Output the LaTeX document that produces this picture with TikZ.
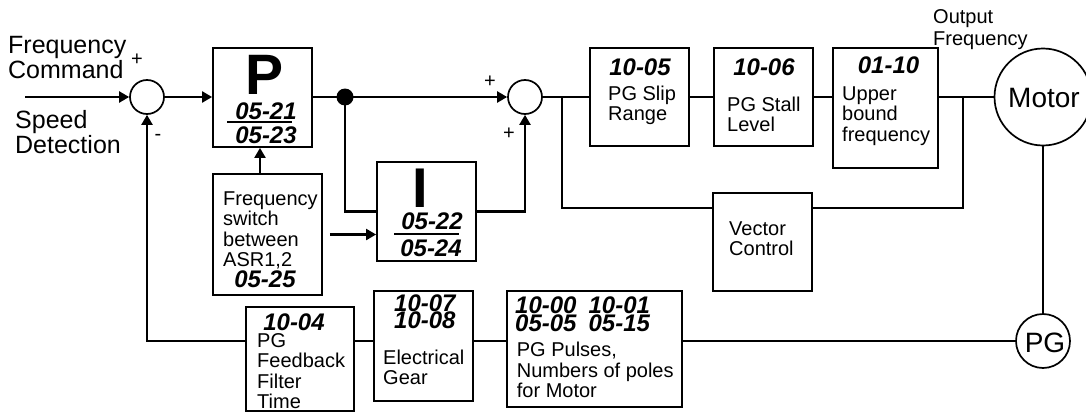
\documentclass[tikz,border=0pt]{standalone}
\usepackage{fontspec}
\setmainfont{Liberation Sans}
\usetikzlibrary{arrows.meta,calc}
\newcommand\mystack[1]{\begin{tabular}[t]{@{}l@{}}#1\end{tabular}}
\newcommand\numstack[3]{\vtop{\baselineskip=#1\lineskiplimit=-30pt\hbox{#2}\hbox{#3}}}
\begin{document}
\begin{tikzpicture}[x=1pt,y=-1pt,line join=miter,
  box/.style={draw,line width=1.8pt,inner sep=0pt},
  circ/.style={circle,draw,line width=1.7pt,inner sep=0pt},
  wire/.style={line width=2.2pt},
  arr/.style={wire,-{Triangle[length=10pt,width=11pt]}},
  txt/.style={anchor=base west,inner sep=0pt,font=\fontsize{20}{20.3}\selectfont},
  big/.style={anchor=base west,inner sep=0pt,font=\fontsize{25}{25.5}\selectfont},
  num/.style={anchor=base,inner sep=0pt,font=\fontsize{24}{24}\selectfont\bfseries\itshape},
  sign/.style={inner sep=0pt,font=\fontsize{20}{20}\selectfont}]
\useasboundingbox (0,0) rectangle (1086,412);

% blocks
\node[box,minimum width=99pt,minimum height=99pt] (P) at (262.5,97.5) {};
\node[box,minimum width=99pt,minimum height=99pt] (I) at (426.5,211.5) {};
\node[box,minimum width=109pt,minimum height=121pt] (SW) at (267.5,234.5) {};
\node[box,minimum width=99pt,minimum height=98pt] (B1005) at (639.5,97) {};
\node[box,minimum width=99pt,minimum height=98pt] (B1006) at (763.5,97) {};
\node[box,minimum width=105pt,minimum height=120pt] (B0110) at (885.5,108) {};
\node[box,minimum width=99pt,minimum height=98pt] (VC) at (762.5,242) {};
\node[box,minimum width=175pt,minimum height=116pt] (B1000) at (594.5,349) {};
\node[box,minimum width=99pt,minimum height=110pt] (EG) at (423.5,346) {};
\node[box,minimum width=108pt,minimum height=104pt] (B1004) at (300,359) {};

% circles
\node[circ,minimum size=34pt] (S1) at (147,97) {};
\node[circ,minimum size=34pt] (S2) at (525,97) {};
\node[circ,minimum size=97pt] (Motor) at (1043,97) {};
\node[circ,minimum size=54pt] (PG) at (1043,341) {};
\node[circle,fill,inner sep=0pt,minimum size=17pt] (dot) at (345,97) {};

% connectors
\coordinate (in) at (25,97);
\draw[arr] (in) -- (S1.west);
\draw[arr] (S1.east) -- (S1.east -| P.west);
\draw[wire] (dot -| P.east) -- (dot.center);
\draw[arr] (dot.center) -- (S2.west);
\draw[wire] (dot.center) |- (I.west);
\draw[arr] (I.east) -| (S2.south);
\draw[arr] ([xshift=-2.5pt]P.south |- SW.north) -- ([xshift=-2.5pt]P.south);
\draw[arr,shorten <=7pt] (SW.east) -- (SW.east -| I.west);
\draw[wire] (S2.east) -- (S2.east -| B1005.west);
\draw[wire] (B1005.east) -- (B1006.west);
\draw[wire] (B1006.east) -- (B1006.east -| B0110.west);
\draw[wire] (Motor.west -| B0110.east) -- (Motor.west);
\coordinate (br1) at (562,97);
\draw[wire] (br1) |- ($(VC.north west)+(0,16)$);
\coordinate (br2) at (963,97);
\draw[wire] (br2) |- ($(VC.north east)+(0,16)$);
\draw[wire] (Motor.south) -- (PG.north);
\draw[wire] (PG.west) -- (PG.west -| B1000.east);
\draw[wire] (PG.west -| B1000.west) -- (PG.west -| EG.east);
\draw[wire] (PG.west -| EG.west) -- (PG.west -| B1004.east);
\draw[arr] (PG.west -| B1004.west) -| (S1.south);

% left labels
\node[big] (tfc) at (8,53) {\mystack{Frequency\\Command}};
\node[big] (tsd) at (15,128) {\mystack{Speed\\Detection}};
\node[sign] (p1) at (137,60) {+};
\node[sign] (m1) at (158,137) {-};
\node[sign] (p2) at (490,82) {+};
\node[sign] (p3) at (509,134) {+};

% P block
\node[anchor=base,inner sep=0pt,font=\fontsize{57}{57}\selectfont\bfseries] (tP) at (265,94) {P};
\node[num] (n0521) at (266,119) {05-21};
\node[num] (n0523) at (266,143) {05-23};
\draw[line width=2.4pt] (227,122) -- (292,122);

% I block
\node[anchor=base,inner sep=0pt,font=\fontsize{56}{56}\selectfont\bfseries] (tI) at (420.5,207) {I};
\node[num] (n0522) at (432,229) {05-22};
\node[num] (n0524) at (431,256) {05-24};
\draw[line width=2.4pt] (394,234) -- (459,234);

% switch block
\node[txt] (tsw) at (223,205) {\mystack{Frequency\\switch\\between\\ASR1,2}};
\node[num] (n0525) at (265,287) {05-25};

% upper blocks
\node[num] (n1005) at (640,75) {10-05};
\node[txt] (t1005) at (608,100) {\mystack{PG Slip\\Range}};
\node[num] (n1006) at (764,75.5) {10-06};
\node[txt] (t1006) at (727,111) {\mystack{PG Stall\\Level}};
\node[num] (n0110) at (888.5,74) {01-10};
\node[txt] (t0110) at (842,100) {\mystack{Upper\\bound\\frequency}};
\node[txt,font=\fontsize{20}{21}\selectfont] (tout) at (933,24) {\mystack{Output\\Frequency}};
\node[anchor=base,inner sep=0pt,font=\fontsize{28}{28}\selectfont] (tmot) at (1044,107) {Motor};
\node[anchor=base,inner sep=0pt,font=\fontsize{28}{28}\selectfont] (tpg) at (1045,352) {PG};

% vector control
\node[txt] (tvc) at (729,235) {\mystack{Vector\\Control}};

% bottom blocks
\node[num] (n1004) at (294,330) {10-04};
\node[txt] (t1004) at (257,347) {\mystack{PG\\Feedback\\Filter\\Time}};
\node[num,anchor=base west] (n1007) at (394,311.7) {\numstack{16.7pt}{10-07}{10-08}};
\node[txt] (teg) at (383,364) {\mystack{Electrical\\Gear}};
\node[num,anchor=base west] (n1000) at (515,313.3) {\numstack{17.7pt}{10-00\hspace{12pt}10-01}{05-05\hspace{12pt}05-15}};
\node[txt] (t1000) at (516.7,356.7) {\mystack{PG Pulses,\\Numbers of poles\\for Motor}};
\end{tikzpicture}
\end{document}
